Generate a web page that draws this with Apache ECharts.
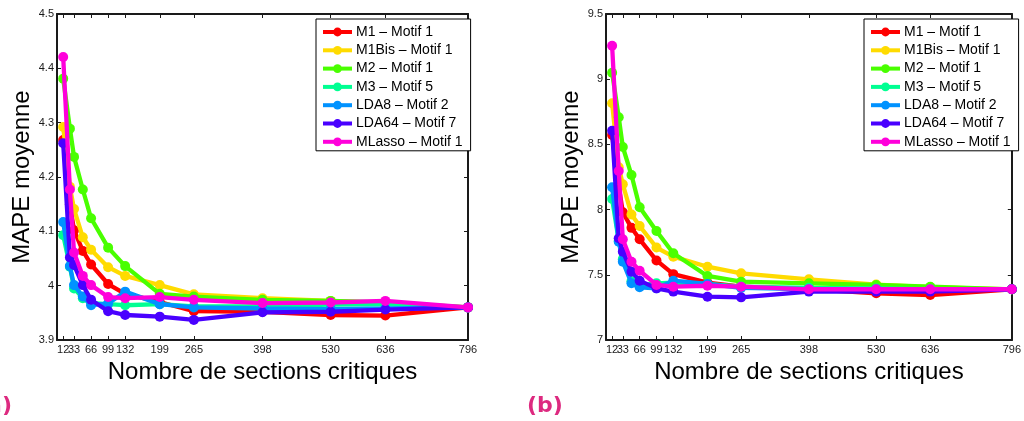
<!DOCTYPE html>
<html>
<head>
<meta charset="utf-8">
<script src="https://cdn.jsdelivr.net/npm/echarts@6/dist/echarts.min.js"></script>
<style>
html,body{margin:0;padding:0;background:#fff;}
#chart{width:1024px;height:421px;}
</style>
</head>
<body>
<div id="chart"></div>
<script>
// ---- data ----
const seriesNames = ['M1 \u2013 Motif 1','M1Bis \u2013 Motif 1','M2 \u2013 Motif 1','M3 \u2013 Motif 5','LDA8 \u2013 Motif 2','LDA64 \u2013 Motif 7','MLasso \u2013 Motif 1'];
const xValues = [12, 25, 33, 50, 66, 99, 132, 199, 265, 398, 530, 636, 796];
const xTickValues = [12, 33, 66, 99, 132, 199, 265, 398, 530, 636, 796];
const xTickFirst = [12];
const xTickRest = [33, 66, 99, 132, 199, 265, 398, 530, 636, 796];

// Panel (a)
const a_M1     = [4.268, 4.150, 4.102, 4.064, 4.039, 4.003, 3.985, 3.970, 3.953, 3.952, 3.946, 3.945, 3.960];
const a_M1Bis  = [4.292, 4.182, 4.141, 4.089, 4.066, 4.034, 4.018, 4.001, 3.984, 3.977, 3.972, 3.968, 3.960];
const a_M2     = [4.381, 4.289, 4.237, 4.177, 4.124, 4.070, 4.036, 3.985, 3.980, 3.974, 3.972, 3.969, 3.960];
const a_M3     = [4.093, 4.035, 3.995, 3.977, 3.968, 3.966, 3.964, 3.966, 3.962, 3.962, 3.965, 3.966, 3.960];
const a_LDA8   = [4.117, 4.036, 4.001, 3.980, 3.964, 3.967, 3.989, 3.966, 3.960, 3.958, 3.957, 3.958, 3.960];
const a_LDA64  = [4.262, 4.052, 4.038, 4.001, 3.974, 3.953, 3.946, 3.943, 3.937, 3.951, 3.952, 3.956, 3.960];
const a_MLasso = [4.421, 4.177, 4.061, 4.018, 4.001, 3.979, 3.977, 3.979, 3.974, 3.968, 3.969, 3.972, 3.960];

// Panel (b)
const b_M1     = [8.572, 8.180, 7.980, 7.860, 7.772, 7.610, 7.505, 7.440, 7.409, 7.390, 7.358, 7.345, 7.389];
const b_M1Bis  = [8.815, 8.324, 8.194, 7.963, 7.874, 7.709, 7.639, 7.562, 7.511, 7.465, 7.425, 7.405, 7.389];
const b_M2     = [9.050, 8.708, 8.480, 8.265, 8.018, 7.836, 7.665, 7.491, 7.447, 7.435, 7.422, 7.409, 7.389];
const b_M3     = [8.081, 7.760, 7.620, 7.450, 7.420, 7.435, 7.440, 7.430, 7.410, 7.400, 7.395, 7.390, 7.389];
const b_LDA8   = [8.171, 7.754, 7.600, 7.435, 7.404, 7.396, 7.455, 7.430, 7.400, 7.390, 7.390, 7.385, 7.389];
const b_LDA64  = [8.605, 7.780, 7.677, 7.524, 7.455, 7.396, 7.371, 7.332, 7.327, 7.371, 7.371, 7.371, 7.389];
const b_MLasso = [9.257, 8.296, 7.772, 7.600, 7.531, 7.422, 7.409, 7.416, 7.409, 7.389, 7.389, 7.389, 7.389];

const aSeries = [a_M1, a_M1Bis, a_M2, a_M3, a_LDA8, a_LDA64, a_MLasso];
const bSeries = [b_M1, b_M1Bis, b_M2, b_M3, b_LDA8, b_LDA64, b_MLasso];
const colors = ['#ff0000','#ffdb00','#49ff00','#00ff92','#0092ff','#4900ff','#ff00db'];

// ---- chart ----
const chart = echarts.init(document.getElementById('chart'), null, {renderer:'canvas'});
const FONT = 'Liberation Sans, Arial, sans-serif';
const fmt = v => String(+(+v).toFixed(2));
const labelStyle = {show:true, margin:4, fontSize:11, color:'#1a1a1a', fontFamily:FONT, hideOverlap:false, showMinLabel:true, showMaxLabel:true};

function xAxes(gridIndex){
  return [
    {
      type:'value', gridIndex, min:0, max:796, position:'bottom',
      axisLine:{show:true, onZero:false, lineStyle:{color:'#1a1a1a', width:2}},
      axisTick:{show:true, inside:true, length:4, customValues:xTickValues, lineStyle:{color:'#1a1a1a', width:1}},
      axisLabel:Object.assign({customValues:xTickRest}, labelStyle),
      splitLine:{show:false},
      name:'Nombre de sections critiques', nameLocation:'middle', nameGap:15,
      nameTextStyle:{fontSize:24, color:'#000', fontFamily:FONT}
    },
    {
      type:'value', gridIndex, min:0, max:796, position:'top',
      axisLine:{show:true, onZero:false, lineStyle:{color:'#1a1a1a', width:2}},
      axisTick:{show:true, inside:true, length:4, customValues:xTickValues, lineStyle:{color:'#1a1a1a', width:1}},
      axisLabel:{show:false}, splitLine:{show:false}
    },
    {
      type:'value', gridIndex, min:0, max:796, position:'bottom', offset:0,
      axisLine:{show:false}, axisTick:{show:false}, splitLine:{show:false},
      axisLabel:Object.assign({customValues:xTickFirst}, labelStyle)
    }
  ];
}
function yAxisPair(gridIndex, min, max, interval){
  return [
    {
      type:'value', gridIndex, min, max, interval, position:'left',
      axisLine:{show:true, onZero:false, lineStyle:{color:'#1a1a1a', width:2}},
      axisTick:{show:true, inside:true, length:4, lineStyle:{color:'#1a1a1a', width:1}},
      axisLabel:{show:true, margin:3, fontSize:11, color:'#1a1a1a', fontFamily:FONT, formatter:fmt,
                 showMinLabel:true, showMaxLabel:true},
      splitLine:{show:false},
      name:'MAPE moyenne', nameLocation:'middle', nameGap:15, nameRotate:90,
      nameTextStyle:{fontSize:24, color:'#000', fontFamily:FONT}
    },
    {
      type:'value', gridIndex, min, max, interval, position:'right',
      axisLine:{show:true, onZero:false, lineStyle:{color:'#1a1a1a', width:2}},
      axisTick:{show:true, inside:true, length:4, lineStyle:{color:'#1a1a1a', width:1}},
      axisLabel:{show:false}, splitLine:{show:false}
    }
  ];
}

const series = [];
function addSeries(list, xIdx, yIdx){
  list.forEach((vals, i) => {
    series.push({
      name: seriesNames[i], type:'line', xAxisIndex:xIdx, yAxisIndex:yIdx,
      data: xValues.map((x, k) => [x, vals[k]]),
      symbol:'circle', symbolSize:10, showSymbol:true,
      lineStyle:{width:4.3, color:colors[i]},
      itemStyle:{color:colors[i]},
      animation:false, z:2+i
    });
  });
}
addSeries(aSeries, 0, 0);
addSeries(bSeries, 3, 2);

function legend(left){
  return {
    data: seriesNames, orient:'vertical', left, top:19,
    backgroundColor:'#fff', borderColor:'#000', borderWidth:1,
    padding:[6,8,2,5], itemGap:4.3, itemWidth:29, itemHeight:11,
    lineStyle:{width:4}, selectedMode:false,
    textStyle:{fontSize:14, color:'#000', fontFamily:FONT, lineHeight:14, padding:[0,0,0,-1]}
  };
}

chart.setOption({
  backgroundColor:'#fff',
  animation:false,
  grid:[
    {left:57, top:14, width:411, height:326},
    {left:606, top:14, width:410, height:326}
  ],
  xAxis:[...xAxes(0), ...xAxes(1)],
  yAxis:[...yAxisPair(0, 3.9, 4.5, 0.1), ...yAxisPair(1, 7, 9.5, 0.5)],
  legend:[legend(316), legend(864)],
  series,
  graphic:[
    {type:'text', right:1012, top:395, style:{text:'(a)', font:'bold 22px "DejaVu Sans", sans-serif', fill:'#dd2a80', textAlign:'right'}},
    {type:'text', left:527, top:395, style:{text:'(b)', font:'bold 22px "DejaVu Sans", sans-serif', fill:'#dd2a80'}}
  ]
});
</script>
</body>
</html>
